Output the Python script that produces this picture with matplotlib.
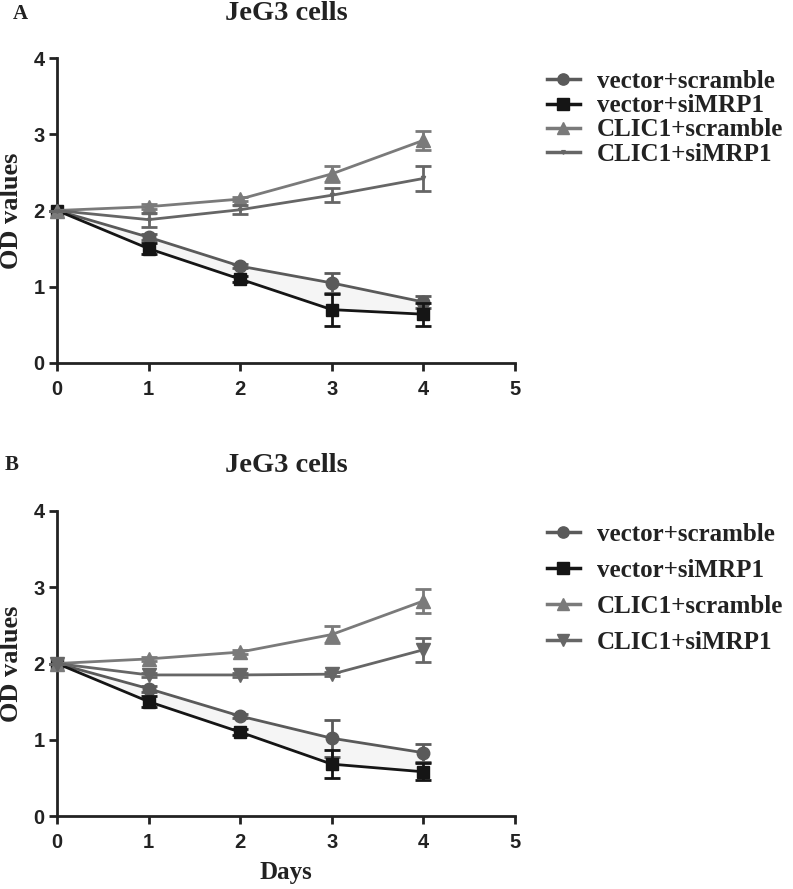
import numpy as np
import matplotlib
matplotlib.use("Agg")
import matplotlib.pyplot as plt
from matplotlib.lines import Line2D

days = [0, 1, 2, 3, 4]
labels = ["vector+scramble", "vector+siMRP1", "CLIC1+scramble", "CLIC1+siMRP1"]

# panel A
a_vec_scr = [2.0, 1.65, 1.27, 1.05, 0.80]
a_vec_scr_err = [0.0, 0.04, 0.03, 0.13, 0.08]
a_vec_si = [2.0, 1.50, 1.10, 0.70, 0.64]
a_vec_si_err = [0.0, 0.07, 0.04, 0.21, 0.15]
a_clic_scr = [2.0, 2.05, 2.15, 2.48, 2.92]
a_clic_scr_err = [0.0, 0.03, 0.03, 0.11, 0.12]
a_clic_si = [2.0, 1.88, 2.01, 2.20, 2.42]
a_clic_si_err = [0.0, 0.09, 0.06, 0.09, 0.17]

# panel B
b_vec_scr = [2.0, 1.67, 1.31, 1.02, 0.83]
b_vec_scr_err = [0.0, 0.04, 0.03, 0.24, 0.12]
b_vec_si = [2.0, 1.50, 1.10, 0.68, 0.58]
b_vec_si_err = [0.0, 0.07, 0.04, 0.18, 0.11]
b_clic_scr = [2.0, 2.06, 2.15, 2.38, 2.82]
b_clic_scr_err = [0.0, 0.03, 0.03, 0.11, 0.16]
b_clic_si = [2.0, 1.85, 1.85, 1.86, 2.18]
b_clic_si_err = [0.0, 0.03, 0.03, 0.03, 0.16]

SERIF = "Liberation Serif"
SANS = "Liberation Sans"
INK = "#222222"

styles = [
    dict(color="#5a5a5a", marker="o", ms=9),
    dict(color="#151515", marker="s", ms=9),
    dict(color="#7a7a7a", marker="^", ms=10),
    dict(color="#666666", marker="v", ms=None),
]

W, H = 793, 889
fig = plt.figure(figsize=(W / 100, H / 100), dpi=100)


def fx(px):
    return px / W


def fy(py):
    return 1 - py / H


def panel(rect, series, errs, tri_ms, letter, title_y, leg_top, leg_spacing):
    ax = fig.add_axes(rect)
    ax.fill_between(days, series[0], series[1], color="#f5f5f5", lw=0, zorder=1)
    handles = []
    for i, (y, e) in enumerate(zip(series, errs)):
        st = styles[i]
        ms = st["ms"] if st["ms"] is not None else tri_ms
        ax.errorbar(days, y, yerr=e, color=st["color"], marker=st["marker"],
                    ms=ms, lw=2, elinewidth=2, capsize=6, capthick=2,
                    zorder=3 + i, clip_on=False)
        handles.append(Line2D([], [], color=st["color"], marker=st["marker"],
                              ms=ms * 0.9, lw=2.5, label=labels[i]))
    ax.set_xlim(0, 5)
    ax.set_ylim(0, 4)
    ax.set_xticks(range(6))
    ax.set_yticks(range(5))
    for s in ["top", "right"]:
        ax.spines[s].set_visible(False)
    for s in ["left", "bottom"]:
        ax.spines[s].set_linewidth(2)
        ax.spines[s].set_color(INK)
    ax.tick_params(width=2, length=6, color=INK, labelsize=14.5)
    ax.tick_params(axis="x", pad=6)
    ax.tick_params(axis="y", pad=3)
    for t in ax.get_xticklabels() + ax.get_yticklabels():
        t.set_fontfamily(SANS)
        t.set_fontweight("bold")
        t.set_color(INK)
    fig.text(fx(286), fy(title_y), "JeG3 cells", fontfamily=SERIF,
             fontweight="bold", fontsize=20.5, color=INK, ha="center", va="center")
    fig.text(fx(20 if letter == "A" else 12), fy(title_y), letter, fontfamily=SERIF,
             fontweight="bold", fontsize=15, color=INK, ha="center", va="center")
    mid = (rect[1] + rect[3] / 2)
    fig.text(fx(12), mid, "OD values", fontfamily=SERIF, fontweight="bold",
             fontsize=19, color=INK, rotation=90, ha="center", va="center")
    leg = fig.legend(handles=handles, loc="upper left",
                     bbox_to_anchor=(fx(547), fy(leg_top)), frameon=False,
                     prop=dict(family=SERIF, weight="bold", size=18),
                     handlelength=1.3, handletextpad=0.7,
                     labelspacing=leg_spacing, borderaxespad=0, borderpad=0)
    for t in leg.get_texts():
        t.set_color(INK)
    return ax


panel([fx(57), fy(363), fx(515) - fx(57), fy(58) - fy(363)],
      [a_vec_scr, a_vec_si, a_clic_scr, a_clic_si],
      [a_vec_scr_err, a_vec_si_err, a_clic_scr_err, a_clic_si_err],
      3, "A", 14, 70, 0.05)
panel([fx(57), fy(816), fx(515) - fx(57), fy(511) - fy(816)],
      [b_vec_scr, b_vec_si, b_clic_scr, b_clic_si],
      [b_vec_scr_err, b_vec_si_err, b_clic_scr_err, b_clic_si_err],
      10, "B", 465, 523, 0.52)

fig.text(fx(286), fy(873), "Days", fontfamily=SERIF, fontweight="bold",
         fontsize=18, color=INK, ha="center", va="center")

fig.savefig("out.png", dpi=100)
